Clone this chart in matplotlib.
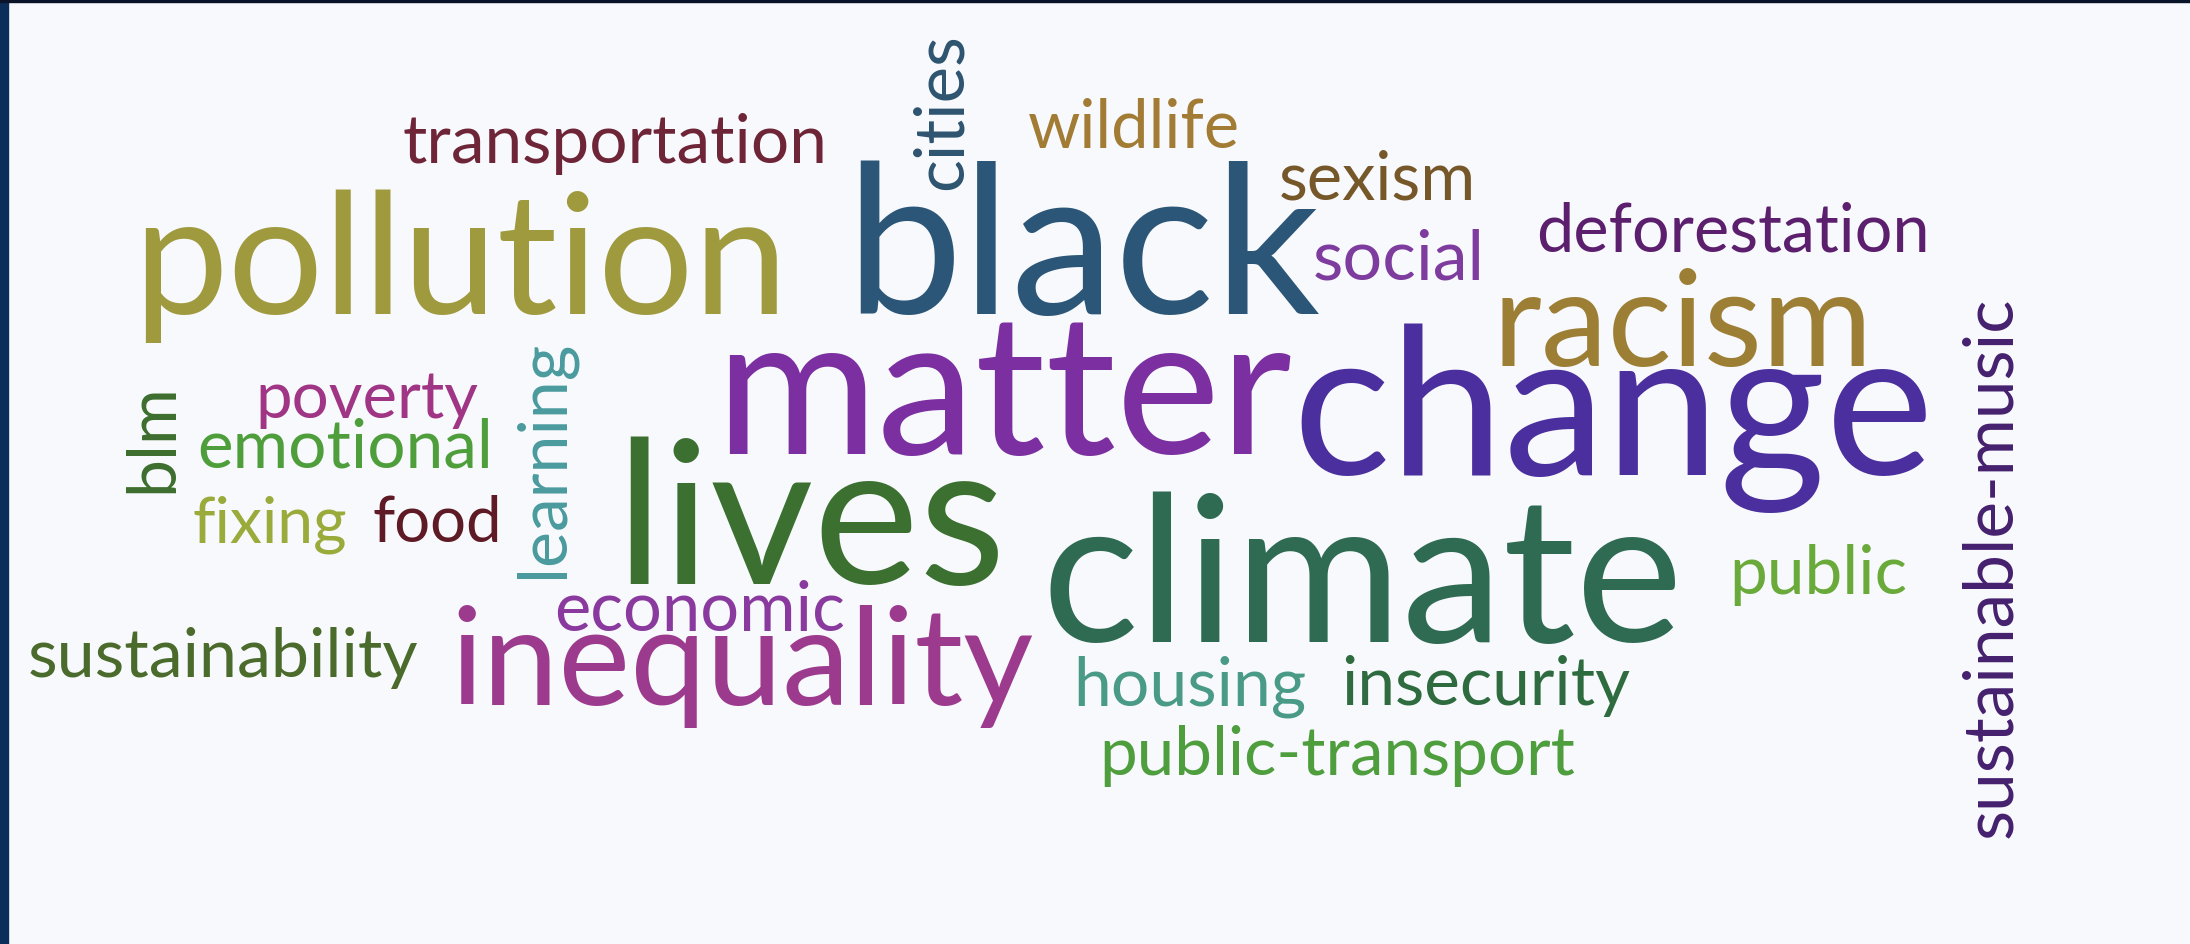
import matplotlib
matplotlib.use("Agg")
import matplotlib.pyplot as plt

# Palavras da nuvem
words = ["transportation", "cities", "wildlife", "sexism", "pollution", "black",
         "social", "deforestation", "racism", "matter", "change",
         "sustainable-music", "poverty", "blm", "emotional", "learning",
         "fixing", "food", "lives", "climate", "public", "economic",
         "inequality", "sustainability", "housing", "insecurity",
         "public-transport"]

# Posição (x, linha de base y, largura em px, rotação)
layout = [(402, 163, 425, 0), (962, 190, 157, 90), (1028, 148, 212, 0),
          (1279, 200, 197, 0), (133, 314, 656, 0), (845, 314, 475, 0),
          (1313, 279, 172, 0), (1536, 251, 394, 0), (1492, 366, 380, 0),
          (715, 454, 577, 0), (1292, 475, 642, 0), (2011, 838, 542, 90),
          (255, 418, 223, 0), (172, 493, 110, 90), (197, 467, 296, 0),
          (563, 578, 238, 90), (193, 542, 155, 0), (372, 542, 130, 0),
          (615, 584, 391, 0), (1041, 642, 642, 0), (1729, 594, 178, 0),
          (554, 631, 291, 0), (450, 705, 584, 0), (28, 677, 391, 0),
          (1073, 705, 233, 0), (1341, 705, 289, 0), (1099, 775, 476, 0)]

colors = ["#6e2538", "#2e5470", "#a27b35", "#76572a", "#a09a3f", "#2c5677",
          "#7e3c9e", "#5c1f6e", "#9c7e35", "#7b2fa0", "#4b2f9e", "#45206e",
          "#a03585", "#3d6e2e", "#4f9e3c", "#4a9a9e", "#9aab3c", "#5e1a25",
          "#3b7030", "#2f6b52", "#6aaa3a", "#8a3a9e", "#9c3a8e", "#4b6b2c",
          "#4a9a88", "#2e6b3e", "#4e9e3e"]

plt.rcParams['font.family'] = ['Lato', 'DejaVu Sans']

fig = plt.figure(figsize=(21.9, 9.44), dpi=100, facecolor="#f7f9fc")
ax = fig.add_axes([0, 0, 1, 1])
ax.set_xlim(0, 2190)
ax.set_ylim(944, 0)
ax.axis("off")

# borda escura do slide
ax.axvspan(0, 8, color="#0b2d5a")
ax.axhspan(0, 2, color="#0a1428")

fig.canvas.draw()
renderer = fig.canvas.get_renderer()

for w, (x, y, width, rot), c in zip(words, layout, colors):
    t = ax.text(x, y, w, fontsize=100, color=c, rotation=rot,
                rotation_mode="anchor", ha="left", va="baseline")
    bb = t.get_window_extent(renderer)
    medido = bb.height if rot else bb.width
    t.set_fontsize(100 * width / medido)

fig.savefig("out.png", dpi=100, facecolor=fig.get_facecolor())
